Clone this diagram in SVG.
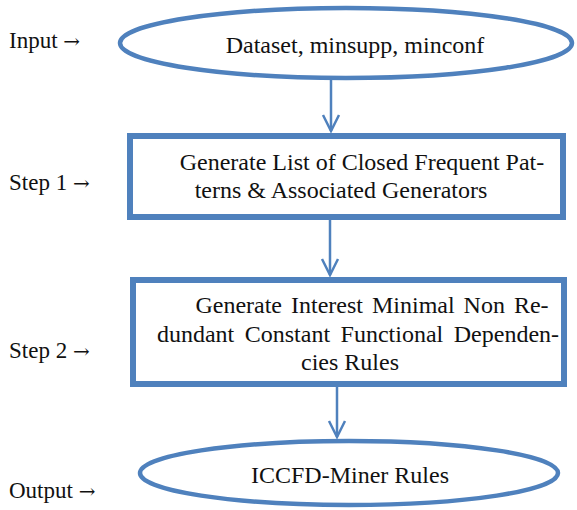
<svg xmlns="http://www.w3.org/2000/svg" width="577" height="510" viewBox="0 0 577 510">
  <style>
    .shape { fill: #ffffff; stroke: #4f81bd; }
    .label { font-family: 'Liberation Serif', 'Times New Roman', serif; font-size: 24px; fill: #111111; }
    .caption { font-family: 'Liberation Serif', 'Times New Roman', serif; font-size: 23px; fill: #111111; }
    .arr { font-family: 'DejaVu Serif', serif; font-size: 20px; }
    .mid { text-anchor: middle; }
    .conn { stroke: #4f81bd; stroke-width: 2.5; fill: none; }
  </style>
  <defs>
    <marker id="arrow" viewBox="0 0 20 20" refX="18" refY="10" markerWidth="20" markerHeight="20" markerUnits="userSpaceOnUse" orient="auto">
      <path d="M2,2 L18,10 L2,18" fill="none" stroke="#4f81bd" stroke-width="2.5"/>
    </marker>
  </defs>

  <!-- side captions -->
  <g id="captions" class="caption">
    <text x="9" y="48">Input <tspan class="arr">→</tspan></text>
    <text x="9" y="190">Step 1 <tspan class="arr">→</tspan></text>
    <text x="9" y="358">Step 2 <tspan class="arr">→</tspan></text>
    <text x="9" y="498">Output <tspan class="arr">→</tspan></text>
  </g>

  <!-- connectors -->
  <g id="connectors">
    <line class="conn" x1="331" y1="79" x2="331" y2="131" marker-end="url(#arrow)"/>
    <line class="conn" x1="330" y1="220" x2="330" y2="275" marker-end="url(#arrow)"/>
    <line class="conn" x1="337" y1="387" x2="337" y2="437" marker-end="url(#arrow)"/>
  </g>

  <g id="input">
    <ellipse class="shape" cx="346" cy="43" rx="226" ry="35" stroke-width="4.5"/>
    <text class="label mid" x="355" y="53">Dataset, minsupp, minconf</text>
  </g>

  <g id="step1">
    <rect class="shape" x="130" y="136" width="433" height="81" stroke-width="6"/>
    <text class="label mid" x="362" y="170">Generate List of Closed Frequent Pat-</text>
    <text class="label mid" x="341" y="198">terns &amp; Associated Generators</text>
  </g>

  <g id="step2">
    <rect class="shape" x="133" y="280" width="431" height="104" stroke-width="6"/>
    <text class="label mid" x="372" y="313" word-spacing="3">Generate Interest Minimal Non Re-</text>
    <text class="label mid" x="358" y="342" word-spacing="4.5">dundant Constant Functional Dependen-</text>
    <text class="label mid" x="350" y="370">cies Rules</text>
  </g>

  <g id="output">
    <ellipse class="shape" cx="349" cy="473" rx="209" ry="32" stroke-width="4.5"/>
    <text class="label mid" x="350" y="483">ICCFD-Miner Rules</text>
  </g>
</svg>
